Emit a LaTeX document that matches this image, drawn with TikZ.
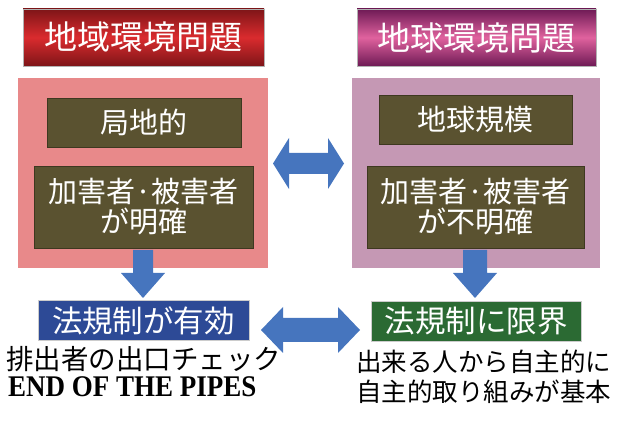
\documentclass[tikz,border=0pt]{standalone}
\usepackage{fontspec}
\newfontfamily\jp{Noto Sans CJK JP}
\newfontfamily\ser{Liberation Serif}
\definecolor{pinkp}{HTML}{E8898A}
\definecolor{purpp}{HTML}{C598B4}
\definecolor{olive}{HTML}{5A5230}
\definecolor{olivedk}{HTML}{3E3820}
\definecolor{arrblue}{HTML}{4675BE}
\definecolor{boxblue}{HTML}{2D4A96}
\definecolor{boxgreen}{HTML}{2B6A33}
\definecolor{redD}{HTML}{7E1518}
\definecolor{redL}{HTML}{DA2B2E}
\definecolor{purD}{HTML}{6E1A55}
\definecolor{purL}{HTML}{E0629E}
\tikzset{
  titlebox/.style={draw=gray!60, line width=0.6pt, inner sep=0pt, text=white,
    font=\jp\fontsize{33}{36}\selectfont, minimum height=57pt},
  panel/.style={inner sep=0pt},
  olivebox/.style={fill=olive, draw=olivedk, line width=0.6pt, inner sep=0pt, text=white, align=center},
  lawbox/.style={inner sep=0pt, text=white, draw=gray!40, line width=0.6pt,
    font=\jp\fontsize{30.5}{32}\selectfont, minimum height=40pt},
  bigarrow/.style={fill=arrblue},
  caption/.style={anchor=west, inner sep=0pt, font=\jp\fontsize{27.5}{29}\selectfont}
}
\begin{document}
\begin{tikzpicture}[x=1pt,y=-1pt]
\useasboundingbox (0,0) rectangle (619,430);
% titles
\node[titlebox, top color=redD, bottom color=redD, middle color=redL,
  minimum width=241pt] (tl) at (143.5,37.5) {地域環境問題};
\node[titlebox, top color=purD, bottom color=purD, middle color=purL,
  minimum width=239pt] (tr) at (476.5,37.5) {地球環境問題};
% panels
\fill[pinkp] (18,78) rectangle (268,268);
\fill[purpp] (352,78) rectangle (600,268);
\node[panel] (pl) at (143,173) {};
\node[panel] (pr) at (476,173) {};
% olive boxes
\node[olivebox, minimum width=194pt, minimum height=49pt,
  font=\jp\fontsize{29}{30}\selectfont] (l1) at (144,122.5) {局地的};
\node[olivebox, minimum width=219pt, minimum height=82pt,
  font=\jp\fontsize{29}{30}\selectfont] (l2) at (143.5,207) {加害者·被害者\\が明確};
\node[olivebox, minimum width=193pt, minimum height=49pt,
  font=\jp\fontsize{29}{30}\selectfont] (r1) at (475.5,119.5) {地球規模};
\node[olivebox, minimum width=217pt, minimum height=82pt,
  font=\jp\fontsize{29}{30}\selectfont] (r2) at (475.5,207) {加害者·被害者\\が不明確};
% law boxes
\node[lawbox, fill=boxblue, minimum width=211pt] (lb) at (143.5,320.5) {法規制が有効};
\node[lawbox, fill=boxgreen, minimum width=210pt] (rb) at (476,321) {法規制に限界};
% arrows
\fill[bigarrow] (133,250) -- (153,250) -- (153,273) -- (165,273) -- (143,298)
  -- (121,273) -- (133,273) -- cycle;
\fill[bigarrow] (463,250) -- (487,250) -- (487,273) -- (497,273) -- (475,298)
  -- (453,273) -- (463,273) -- cycle;
\fill[bigarrow] (273,163.5) -- (289,138) -- (289,153) -- (328,153) -- (328,138)
  -- (344,163.5) -- (328,189) -- (328,174) -- (289,174) -- (289,189) -- cycle;
\fill[bigarrow] (261,330) -- (283,307) -- (283,318) -- (338,318) -- (338,307)
  -- (360,330) -- (338,353) -- (338,342) -- (283,342) -- (283,353) -- cycle;
% captions
\node[caption] (c1) at (6,359) {排出者の出口チェック};
\node[caption, font=\ser\bfseries\fontsize{30}{30}\selectfont] (c2) at (8,387)
  {\scalebox{0.9}[1]{END OF THE PIPES}};
\node[caption, font=\jp\fontsize{25.5}{28}\selectfont] (c3) at (356,362) {出来る人から自主的に};
\node[caption, font=\jp\fontsize{25.5}{28}\selectfont] (c4) at (356,392) {自主的取り組みが基本};
\end{tikzpicture}
\end{document}
